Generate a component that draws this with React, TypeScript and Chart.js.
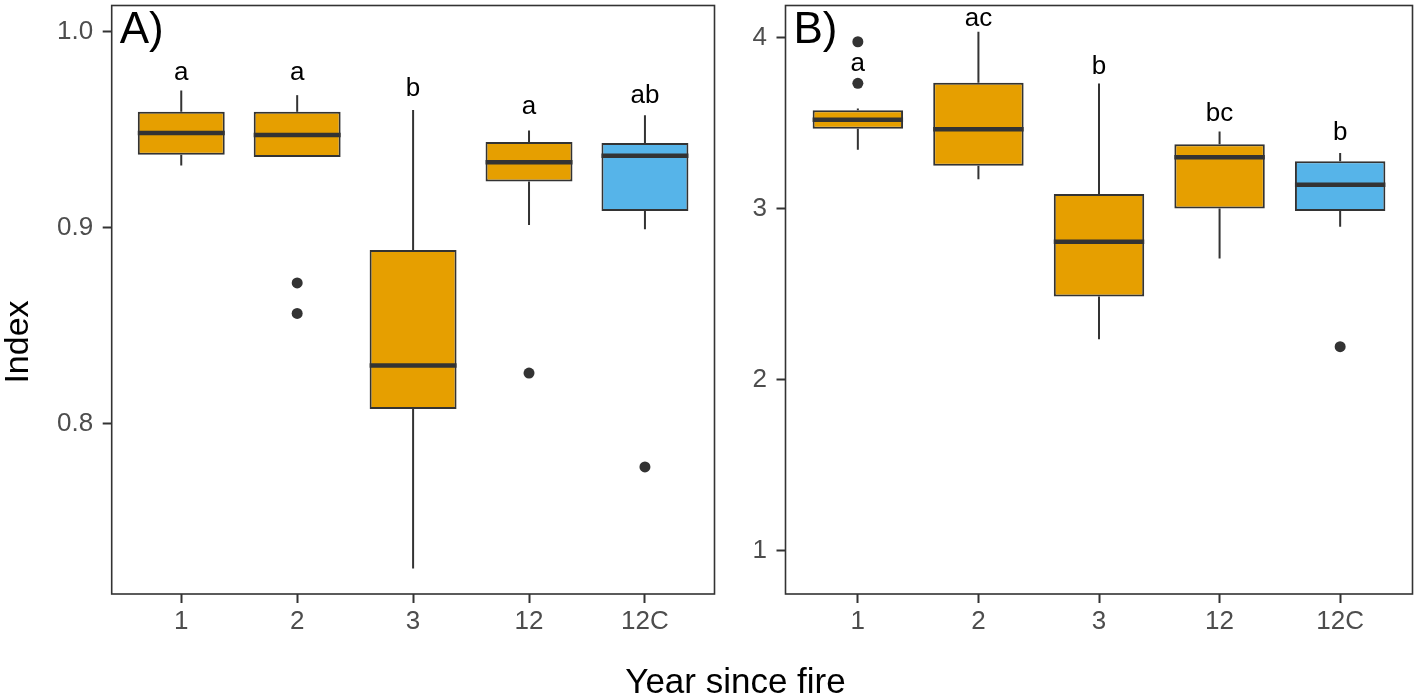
import React, { useEffect, useRef } from 'react';
import { Chart, registerables } from 'chart.js';

Chart.register(...registerables);

// ---------- data ----------
const CATEGORIES = ['1', '2', '3', '12', '12C'];
const FILL_COLORS = ['#E69F00', '#E69F00', '#E69F00', '#E69F00', '#56B4E9'];

// Panel A
const A_WHISKER_LOW = [0.9317, 0.9361, 0.7261, 0.9014, 0.8992];
const A_Q1 = [0.9372, 0.9361, 0.8074, 0.9236, 0.9085];
const A_MEDIAN = [0.9483, 0.9473, 0.8297, 0.9334, 0.9367];
const A_Q3 = [0.9591, 0.9591, 0.8886, 0.9437, 0.9432];
const A_WHISKER_HIGH = [0.97, 0.9676, 0.96, 0.9496, 0.9573];
const A_OUTLIER_CAT = [1, 1, 3, 4];
const A_OUTLIER_VAL = [0.8718, 0.8562, 0.8258, 0.7779];
const A_LETTERS = ['a', 'a', 'b', 'a', 'ab'];
const A_LETTER_Y = [0.9755, 0.9755, 0.9671, 0.9578, 0.9637];
const A_TICKS = [0.8, 0.9, 1.0];

// Panel B
const B_WHISKER_LOW = [3.345, 3.173, 2.237, 2.709, 2.895];
const B_Q1 = [3.469, 3.252, 2.487, 3.002, 2.988];
const B_MEDIAN = [3.521, 3.465, 2.808, 3.302, 3.141];
const B_Q3 = [3.577, 3.738, 3.087, 3.378, 3.279];
const B_WHISKER_HIGH = [3.587, 4.035, 3.733, 3.452, 3.327];
const B_OUTLIER_CAT = [0, 0, 4];
const B_OUTLIER_VAL = [3.977, 3.734, 2.194];
const B_LETTERS = ['a', 'ac', 'b', 'bc', 'b'];
const B_LETTER_Y = [3.806, 4.068, 3.787, 3.516, 3.405];
const B_TICKS = [1, 2, 3, 4];

const FONT = '"Liberation Sans", Arial, Helvetica, sans-serif';
const DARK = '#333333';

const boxExtras = {
  id: 'boxExtras',
  beforeDatasetsDraw(chart: any) {
    const p = chart.options.plugins.boxExtras;
    const { ctx } = chart;
    const x = chart.scales.x;
    const y = chart.scales.y;
    ctx.save();
    ctx.strokeStyle = DARK;
    ctx.lineWidth = 2;
    p.low.forEach((lo: number, i: number) => {
      const px = x.getPixelForValue(i);
      ctx.beginPath();
      ctx.moveTo(px, y.getPixelForValue(p.high[i]));
      ctx.lineTo(px, y.getPixelForValue(p.q3[i]));
      ctx.moveTo(px, y.getPixelForValue(p.q1[i]));
      ctx.lineTo(px, y.getPixelForValue(lo));
      ctx.stroke();
    });
    ctx.restore();
  },
  afterDatasetsDraw(chart: any) {
    const p = chart.options.plugins.boxExtras;
    const { ctx } = chart;
    const y = chart.scales.y;
    const meta = chart.getDatasetMeta(0);
    ctx.save();
    ctx.strokeStyle = DARK;
    ctx.lineWidth = 4.5;
    p.median.forEach((m: number, i: number) => {
      const bar = meta.data[i] as any;
      const py = y.getPixelForValue(m);
      ctx.beginPath();
      ctx.moveTo(bar.x - bar.width / 2, py);
      ctx.lineTo(bar.x + bar.width / 2, py);
      ctx.stroke();
    });
    ctx.restore();
  },
  afterDraw(chart: any) {
    const p = chart.options.plugins.boxExtras;
    const { ctx, chartArea } = chart;
    const x = chart.scales.x;
    const y = chart.scales.y;
    ctx.save();
    // frame
    ctx.strokeStyle = DARK;
    ctx.lineWidth = 1.6;
    ctx.strokeRect(chartArea.left, chartArea.top, chartArea.right - chartArea.left, chartArea.bottom - chartArea.top);
    // letters
    ctx.fillStyle = '#000000';
    ctx.font = `26px ${FONT}`;
    ctx.textAlign = 'center';
    ctx.textBaseline = 'alphabetic';
    p.letters.forEach((t: string, i: number) => {
      ctx.fillText(t, x.getPixelForValue(i), y.getPixelForValue(p.letterY[i]));
    });
    // panel label
    ctx.textAlign = 'left';
    ctx.font = `44px ${FONT}`;
    ctx.fillText(p.panel, chartArea.left + 8, 43);
    // y title
    if (p.yTitle) {
      ctx.save();
      ctx.translate(28, 342);
      ctx.rotate(-Math.PI / 2);
      ctx.textAlign = 'center';
      ctx.font = `34px ${FONT}`;
      ctx.fillText(p.yTitle, 0, 0);
      ctx.restore();
    }
    ctx.restore();
  },
};

type Panel = {
  low: number[]; q1: number[]; median: number[]; q3: number[]; high: number[];
  outCat: number[]; outVal: number[]; letters: string[]; letterY: number[];
  ticks: number[]; yMin: number; yMax: number; yWidth: number; panel: string;
  yTitle?: string; fmt: (v: number) => string; padRight: number;
};

function zeroPad(axis: any) {
  axis.paddingTop = 0;
  axis.paddingBottom = 0;
  axis.paddingLeft = 0;
  axis.paddingRight = 0;
}

function makeChart(canvas: HTMLCanvasElement, p: Panel) {
  return new Chart(canvas, {
    type: 'bar',
    data: {
      datasets: [
        {
          type: 'bar',
          data: CATEGORIES.map((_, i) => ({ x: i, y: [p.q1[i], p.q3[i]] })) as any,
          backgroundColor: FILL_COLORS,
          borderColor: DARK,
          borderWidth: 2,
          borderSkipped: false,
          barPercentage: 0.75,
          categoryPercentage: 1,
        } as any,
        {
          type: 'scatter',
          data: p.outCat.map((c, i) => ({ x: c, y: p.outVal[i] })),
          backgroundColor: DARK,
          borderWidth: 0,
          pointRadius: 5.5,
          pointHoverRadius: 5.5,
        } as any,
      ],
    },
    plugins: [boxExtras],
    options: {
      animation: false,
      responsive: false,
      events: [],
      layout: { padding: { top: 2.5, right: p.padRight, bottom: 0, left: 0 } },
      plugins: {
        legend: { display: false },
        tooltip: { enabled: false },
        boxExtras: p,
      } as any,
      scales: {
        x: {
          type: 'linear',
          offset: false,
          min: -0.6,
          max: CATEGORIES.length - 0.4,
          afterBuildTicks: (axis: any) => {
            axis.ticks = CATEGORIES.map((_, i) => ({ value: i }));
          },
          afterFit: (axis: any) => {
            axis.height = 102;
            zeroPad(axis);
          },
          ticks: {
            autoSkip: false,
            maxRotation: 0,
            padding: 3,
            color: '#4D4D4D',
            font: { family: FONT, size: 26 },
            callback: (v: any) => CATEGORIES[Math.round(v)],
          },
          grid: { offset: false, drawOnChartArea: false, drawTicks: true, tickLength: 9, tickWidth: 2, tickColor: DARK },
          border: { display: false },
        },
        y: {
          type: 'linear',
          min: p.yMin,
          max: p.yMax,
          afterBuildTicks: (axis: any) => {
            axis.ticks = p.ticks.map((v) => ({ value: v }));
          },
          afterFit: (axis: any) => {
            axis.width = p.yWidth;
            zeroPad(axis);
          },
          ticks: {
            padding: 9.5,
            color: '#4D4D4D',
            font: { family: FONT, size: 26 },
            callback: (v: any) => p.fmt(Number(v)),
          },
          grid: { drawOnChartArea: false, drawTicks: true, tickLength: 9, tickWidth: 2, tickColor: DARK },
          border: { display: false },
        },
      },
    } as any,
  });
}

export default function App() {
  const refA = useRef<HTMLCanvasElement>(null);
  const refB = useRef<HTMLCanvasElement>(null);

  useEffect(() => {
    const a = makeChart(refA.current!, {
      low: A_WHISKER_LOW, q1: A_Q1, median: A_MEDIAN, q3: A_Q3, high: A_WHISKER_HIGH,
      outCat: A_OUTLIER_CAT, outVal: A_OUTLIER_VAL, letters: A_LETTERS, letterY: A_LETTER_Y,
      ticks: A_TICKS, yMin: 0.71305, yMax: 1.01335, yWidth: 111.7, panel: 'A)', yTitle: 'Index',
      fmt: (v) => v.toFixed(1), padRight: 2.5,
    });
    const b = makeChart(refB.current!, {
      low: B_WHISKER_LOW, q1: B_Q1, median: B_MEDIAN, q3: B_Q3, high: B_WHISKER_HIGH,
      outCat: B_OUTLIER_CAT, outVal: B_OUTLIER_VAL, letters: B_LETTERS, letterY: B_LETTER_Y,
      ticks: B_TICKS, yMin: 0.748, yMax: 4.189, yWidth: 65.5, panel: 'B)',
      fmt: (v) => String(v), padRight: 1.7,
    });
    return () => {
      a.destroy();
      b.destroy();
    };
  }, []);

  return (
    <div style={{ position: 'absolute', left: 0, top: 0, width: 1418, height: 696, overflow: 'hidden', background: '#fff' }}>
      <canvas ref={refA} width={720} height={696} style={{ position: 'absolute', left: 0, top: 0, display: 'block' }} />
      <canvas ref={refB} width={698} height={696} style={{ position: 'absolute', left: 720, top: 0, display: 'block' }} />
      <div
        style={{
          position: 'absolute', left: 435.5, width: 600, top: 663.4, textAlign: 'center',
          fontFamily: FONT, fontSize: 35, lineHeight: '35px', color: '#000', whiteSpace: 'nowrap',
        }}
      >
        Year since fire
      </div>
    </div>
  );
}
